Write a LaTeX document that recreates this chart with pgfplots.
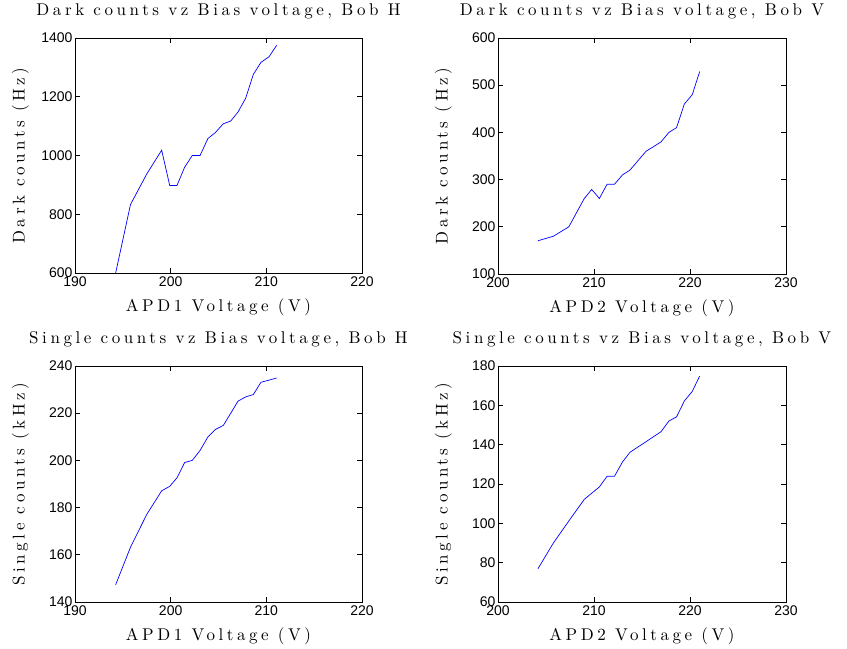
\documentclass[border=0pt]{standalone}
\usepackage{fontspec}
\usepackage{pgfplots}
\pgfplotsset{compat=1.18}
\newfontfamily\ticksf{Liberation Sans}
\newfontfamily\labff{lmroman10-regular.otf}[LetterSpace=21]
\newcommand\labfont{\labff\fontsize{17}{20}\selectfont}
\pgfplotsset{
  mat/.style={
    scale only axis,
    anchor=south west,
    axis line style={line width=0.8pt},
    tick align=inside,
    major tick length=5pt,
    tick style={line width=0.6pt,black},
    ticklabel style={font=\ticksf\fontsize{14}{14}\selectfont},
    /pgf/number format/assume math mode=true,
    /pgf/number format/1000 sep={},
    scaled ticks=false,
    xticklabel style={yshift=0pt},
    yticklabel style={xshift=1pt},
    label style={font=\labfont},
    title style={font=\labfont, at={(axis description cs:0.5,1)}, anchor=center, yshift=21pt},
    xlabel style={at={(axis description cs:0.5,0)}, anchor=center, yshift=-34pt},
    ylabel style={at={(axis description cs:-0.19,0.5)}, anchor=center},
  },
  dat/.style={blue, line width=0.7pt, mark=none},
}
\begin{document}
\begin{tikzpicture}
\path (0pt,0pt) rectangle (847pt,644pt);
% top left
\begin{axis}[mat, at={(75pt,376pt)}, width=287pt, height=235pt,
  xmin=190, xmax=220, ymin=600, ymax=1400,
  xtick={190,200,210,220}, ytick={600,800,1000,1200,1400},
  title={Dark counts vz Bias voltage, Bob H},
  xlabel={APD1 Voltage (V)}, ylabel={Dark counts (Hz)}]
\addplot[dat] table {
194.25 600
195.8 833
197.5 937
199.06 1018
199.9 898
200.66 898
201.46 960
202.26 1000
203.07 1000
203.9 1058
204.67 1078
205.5 1108
206.27 1117
207.04 1148
207.84 1195
208.64 1276
209.44 1317
210.28 1336
211.08 1375
};
\end{axis}
% top right
\begin{axis}[mat, at={(498pt,375pt)}, width=288pt, height=236pt,
  xmin=200, xmax=230, ymin=100, ymax=600,
  xtick={200,210,220,230}, ytick={100,200,300,400,500,600},
  title={Dark counts vz Bias voltage, Bob V},
  xlabel={APD2 Voltage (V)}, ylabel={Dark counts (Hz)}]
\addplot[dat] table {
204.16 170.4
205.77 180
207.38 200
208.99 260
209.76 279
210.56 260
211.36 290
212.13 290
212.97 310
213.74 320
214.58 340
215.42 360
216.22 370
216.99 380
217.80 400
218.60 410
219.41 460
220.24 480
221.01 529
};
\end{axis}
% bottom left
\begin{axis}[mat, at={(75pt,47pt)}, width=287pt, height=236pt,
  xmin=190, xmax=220, ymin=140, ymax=240,
  xtick={190,200,210,220}, ytick={140,160,180,200,220,240},
  title={Single counts vz Bias voltage, Bob H},
  xlabel={APD1 Voltage (V)}, ylabel={Single counts (kHz)}]
\addplot[dat] table {
194.25 147.3
195.8 163.2
197.5 177.1
199.06 187.1
199.9 189.0
200.66 192.6
201.46 199.1
202.26 200
203.07 204.2
203.9 210.0
204.67 213.1
205.5 214.8
206.27 219.9
207.04 225.1
207.84 226.9
208.64 227.9
209.44 233.1
210.28 234.0
211.08 234.9
};
\end{axis}
% bottom right
\begin{axis}[mat, at={(498pt,47pt)}, width=288pt, height=236pt,
  xmin=200, xmax=230, ymin=60, ymax=180,
  xtick={200,210,220,230}, ytick={60,80,100,120,140,160,180},
  title={Single counts vz Bias voltage, Bob V},
  xlabel={APD2 Voltage (V)}, ylabel={Single counts (kHz)}]
\addplot[dat] table {
204.16 76.9
205.77 90
207.38 101.2
208.99 112.2
209.76 115.3
210.56 118.5
211.36 123.9
212.13 123.9
212.97 131.2
213.74 136.1
214.58 138.8
215.42 141.5
216.22 144.1
216.99 146.6
217.80 152.0
218.60 154.1
219.41 162.2
220.24 167.1
221.01 174.9
};
\end{axis}
\end{tikzpicture}
\end{document}
